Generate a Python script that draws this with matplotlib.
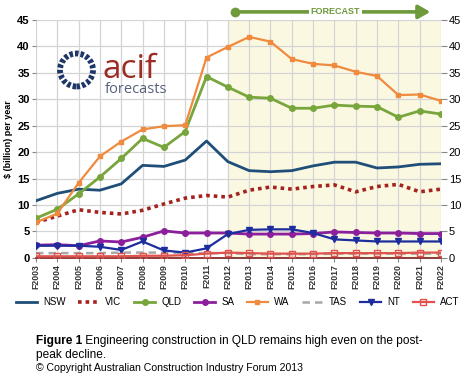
"""Engineering construction by state, F2003-F2022 (ACIF forecasts)."""

import matplotlib
matplotlib.use("Agg")
import matplotlib.pyplot as plt
import matplotlib.patches as mpatches
import matplotlib.transforms as mtrans

plt.rcParams["font.family"] = ["Liberation Sans", "DejaVu Sans"]

years = [f"F{y}" for y in range(2003, 2023)]

nsw = [10.8, 12.2, 13.0, 12.8, 14.0, 17.5, 17.3, 18.5, 22.1, 18.2,
       16.5, 16.3, 16.5, 17.4, 18.1, 18.1, 17.0, 17.2, 17.7, 17.8]
vic = [6.7, 7.9, 9.1, 8.6, 8.3, 9.0, 10.2, 11.3, 11.8, 11.5,
       12.8, 13.4, 13.0, 13.5, 13.8, 12.5, 13.5, 13.9, 12.5, 13.0]
qld = [7.5, 9.2, 12.1, 15.3, 18.8, 22.6, 20.9, 23.9, 34.3, 32.3,
       30.4, 30.2, 28.3, 28.3, 28.9, 28.7, 28.6, 26.6, 27.8, 27.2]
sa = [2.4, 2.5, 2.3, 3.2, 3.0, 3.9, 5.1, 4.7, 4.7, 4.7,
      4.5, 4.5, 4.5, 4.6, 4.9, 4.8, 4.7, 4.7, 4.6, 4.6]
wa = [6.7, 8.4, 14.2, 19.2, 22.0, 24.3, 24.9, 25.1, 37.9, 39.9,
      41.8, 40.9, 37.6, 36.7, 36.4, 35.2, 34.4, 30.8, 30.9, 29.7]
tas = [0.9, 0.9, 0.9, 0.9, 1.0, 1.0, 1.0, 0.9, 0.9, 0.9,
       0.7, 0.7, 0.7, 0.7, 0.8, 0.8, 0.8, 0.8, 0.8, 0.8]
nt = [2.3, 2.3, 2.3, 2.1, 1.5, 3.1, 1.4, 1.0, 1.8, 4.5,
      5.3, 5.4, 5.4, 4.7, 3.5, 3.3, 3.1, 3.1, 3.1, 3.1]
act = [0.3, 0.3, 0.3, 0.3, 0.3, 0.4, 0.4, 0.5, 0.8, 1.0,
       0.9, 0.8, 0.8, 0.8, 0.9, 0.9, 0.9, 0.9, 1.0, 1.0]

yticks = [0, 5, 10, 15, 20, 25, 30, 35, 40, 45]
forecast_start = "F2012"

fig = plt.figure(figsize=(4.7, 3.77), dpi=100)
ax = fig.add_axes([0.0766, 0.316, 0.8617, 0.631])
x = list(range(len(years)))

# zona di previsione
i0 = years.index(forecast_start)
ax.axvspan(i0, len(years) - 1, color="#fbf8e2", zorder=0)

ax.plot(x, nsw, color="#1f4e79", lw=2.0, label="NSW", zorder=3)
ax.plot(x, vic, color="#a3231f", lw=2.6, ls=(0, (1, 1.1)),
        dash_capstyle="butt", label="VIC", zorder=3)
ax.plot(x, qld, color="#78a63c", lw=2.0, marker="o", ms=4, label="QLD", zorder=3)
ax.plot(x, sa, color="#8c1f9c", lw=2.0, marker="o", ms=4, label="SA", zorder=3)
ax.plot(x, wa, color="#ef8a3e", lw=1.6, marker="s", ms=2.8, label="WA", zorder=3)
ax.plot(x, tas, color="#a8a8a8", lw=1.8, ls=(0, (3, 2)), label="TAS", zorder=3)
ax.plot(x, nt, color="#1d2d9e", lw=1.6, marker="v", ms=4, label="NT", zorder=3)
ax.plot(x, act, color="#e0524d", lw=1.6, marker="s", ms=4.5, mfc="none",
        label="ACT", zorder=3)

ax.set_xlim(0, len(years) - 1)
ax.set_ylim(0, 45)
ax.set_xticks(x)
ax.set_xticklabels(years, rotation=90, fontsize=6.3, fontweight="bold", color="#333333")
ax.set_yticks(yticks)
ax.set_yticklabels([str(v) for v in yticks], fontsize=8, fontweight="bold")
ax.tick_params(axis="both", length=3, color="#888888", pad=1.5)
ax.grid(True, color="#d4d4d4", lw=0.9)
ax.set_axisbelow(True)
for s in ["top", "right", "left"]:
    ax.spines[s].set_visible(False)
ax.spines["bottom"].set_color("#7a1a1a")
ax.spines["bottom"].set_linewidth(1.2)
ax.set_ylabel("$ (billion) per year", fontsize=6.5, fontweight="bold", labelpad=3)

ax2 = ax.twinx()
ax2.set_ylim(0, 45)
ax2.set_yticks(yticks)
ax2.set_yticklabels([str(v) for v in yticks], fontsize=8)
ax2.tick_params(axis="y", length=4, color="#888888", pad=1.5)
for s in ["top", "right", "left", "bottom"]:
    ax2.spines[s].set_visible(False)

# freccia FORECAST sopra il grafico
green = "#6e9a3c"
trans = mtrans.blended_transform_factory(ax.transData, ax.transAxes)
ay = 1.034
ax.annotate("", xy=(18.5, ay), xytext=(i0 + 0.35, ay), xycoords=trans, textcoords=trans,
            arrowprops=dict(arrowstyle="-|>,head_length=0.7,head_width=0.4",
                            color=green, lw=2.6, shrinkA=0, shrinkB=0),
            annotation_clip=False)
ax.plot([i0 + 0.35], [ay], "o", color=green, ms=6, transform=trans, clip_on=False)
ax.text((i0 + 18.5) / 2 + 0.3, ay, "FORECAST", transform=trans, ha="center",
        va="center", fontsize=6.5, fontweight="bold", color=green,
        bbox=dict(facecolor="white", edgecolor="none", pad=1.5))

# logo acif
ring = mpatches.Circle((0.765, 3.07), 0.165, transform=fig.dpi_scale_trans,
                       fill=False, edgecolor="#1f3768", lw=4.2,
                       ls=(0, (0.6, 0.35)))
fig.add_artist(ring)
fig.text(103 / 470, 1 - 78 / 377, "acif", fontsize=24, color="#9b2d25",
         family=["Open Sans", "DejaVu Sans"], va="baseline")
fig.text(105 / 470, 1 - 93 / 377, "forecasts", fontsize=10.5, color="#56607a",
         family=["Open Sans", "DejaVu Sans"], va="baseline")

fig.legend(loc="center", bbox_to_anchor=(0.505, 1 - 302 / 377), ncol=8,
           frameon=False, fontsize=7, handlelength=2.2, columnspacing=1.3,
           handletextpad=0.6, borderaxespad=0)

# didascalia
t1 = fig.text(36 / 470, 1 - 344 / 377, "Figure 1", fontsize=8.6,
              fontweight="bold", va="baseline")
ax.annotate(" Engineering construction in QLD remains high even on the post-",
            xy=(1, 0), xycoords=t1, va="bottom", ha="left", fontsize=8.6,
            annotation_clip=False)
fig.text(36 / 470, 1 - 358 / 377, "peak decline.", fontsize=8.6, va="baseline")
fig.text(36 / 470, 1 - 371 / 377,
         "\u00a9 Copyright Australian Construction Industry Forum 2013",
         fontsize=7.6, va="baseline")

fig.savefig("out.png", dpi=100)
